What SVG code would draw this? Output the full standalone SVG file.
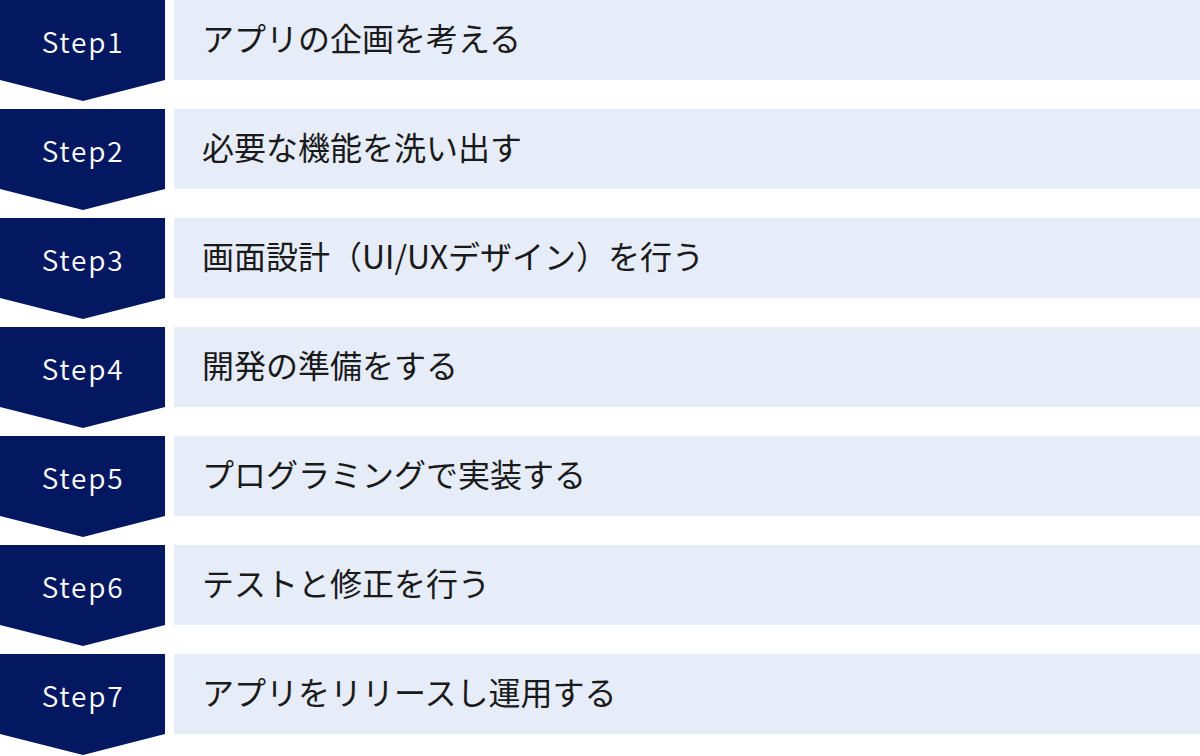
<svg xmlns="http://www.w3.org/2000/svg" width="1200" height="756" viewBox="0 0 1200 756">
<style>
.chev{fill:#041862}
.box{fill:#E6ECF8}
.step{font-family:"Noto Sans CJK JP","Noto Sans",sans-serif;font-size:28px;font-weight:350;fill:#ffffff;text-anchor:middle;letter-spacing:1.8px}
.lbl{font-family:"Noto Sans CJK JP","Noto Sans",sans-serif;font-size:32px;fill:#1a1a1a}
</style>
<defs>
<path id="chevron" d="M0 0H165V80L83 101L0 80Z"/>
</defs>
<g id="connectors"></g>
<g id="step1" transform="translate(0,0)">
<use href="#chevron" class="chev"/><rect class="box" x="174" y="0" width="1026" height="80"/>
<text class="step" x="83" y="53">Step1</text><text class="lbl" x="202" y="51">アプリの企画を考える</text>
</g>
<g id="step2" transform="translate(0,109)">
<use href="#chevron" class="chev"/><rect class="box" x="174" y="0" width="1026" height="80"/>
<text class="step" x="83" y="53">Step2</text><text class="lbl" x="202" y="51">必要な機能を洗い出す</text>
</g>
<g id="step3" transform="translate(0,218)">
<use href="#chevron" class="chev"/><rect class="box" x="174" y="0" width="1026" height="80"/>
<text class="step" x="83" y="53">Step3</text><text class="lbl" x="202" y="51">画面設計（UI/UXデザイン）を行う</text>
</g>
<g id="step4" transform="translate(0,327)">
<use href="#chevron" class="chev"/><rect class="box" x="174" y="0" width="1026" height="80"/>
<text class="step" x="83" y="53">Step4</text><text class="lbl" x="202" y="51">開発の準備をする</text>
</g>
<g id="step5" transform="translate(0,436)">
<use href="#chevron" class="chev"/><rect class="box" x="174" y="0" width="1026" height="80"/>
<text class="step" x="83" y="53">Step5</text><text class="lbl" x="202" y="51">プログラミングで実装する</text>
</g>
<g id="step6" transform="translate(0,545)">
<use href="#chevron" class="chev"/><rect class="box" x="174" y="0" width="1026" height="80"/>
<text class="step" x="83" y="53">Step6</text><text class="lbl" x="202" y="51">テストと修正を行う</text>
</g>
<g id="step7" transform="translate(0,654)">
<use href="#chevron" class="chev"/><rect class="box" x="174" y="0" width="1026" height="80"/>
<text class="step" x="83" y="53">Step7</text><text class="lbl" x="202" y="51">アプリをリリースし運用する</text>
</g>
</svg>
